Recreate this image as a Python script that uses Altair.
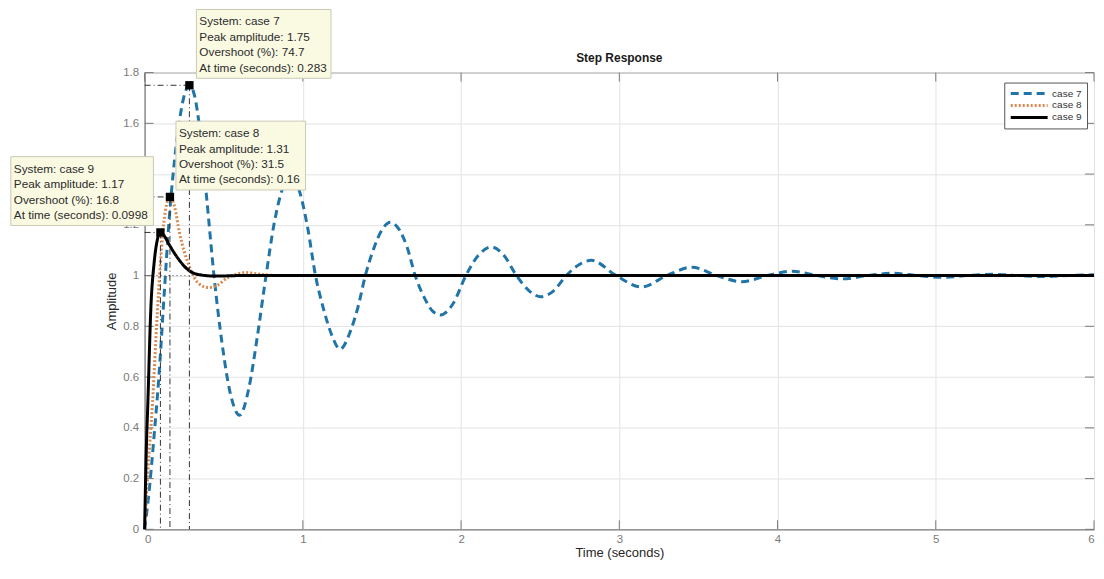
import altair as alt
import pandas as pd

cases = ["case 7", "case 8", "case 9"]
colors = ["#2174a8", "#d9884f", "#000000"]

c7_t = [0, 0.03, 0.06, 0.09, 0.125, 0.155, 0.19, 0.225, 0.255, 0.283, 0.315, 0.35, 0.39, 0.44, 0.49,
        0.54, 0.60, 0.66, 0.71, 0.765, 0.82, 0.87, 0.92, 0.98, 1.03, 1.08, 1.13, 1.18, 1.235, 1.30,
        1.35, 1.395, 1.45, 1.50, 1.553, 1.61, 1.66, 1.71, 1.77, 1.82, 1.87, 1.95, 2.03, 2.11, 2.19,
        2.27, 2.35, 2.43, 2.505, 2.585, 2.665, 2.745, 2.823, 2.98, 3.14, 3.30, 3.458, 3.615, 3.775, 3.935,
        4.093, 4.25, 4.41, 4.57, 4.728, 4.885, 5.045, 5.20, 5.363, 5.52, 5.68, 5.84, 6.0]
c7_y = [0, 0.16, 0.37, 0.6, 0.94, 1.22, 1.46, 1.63, 1.72, 1.75, 1.71, 1.57, 1.32, 0.99, 0.73,
        0.54, 0.45, 0.56, 0.75, 0.99, 1.21, 1.34, 1.40, 1.33, 1.19, 1.0, 0.87, 0.77, 0.71, 0.78,
        0.88, 1.0, 1.11, 1.18, 1.21, 1.18, 1.11, 1.0, 0.91, 0.86, 0.845, 0.89, 1.0, 1.08, 1.113,
        1.08, 1.0, 0.94, 0.917, 0.94, 1.0, 1.043, 1.06, 1.0, 0.955, 1.0, 1.033, 1.0, 0.976, 1.0,
        1.017, 1.0, 0.987, 1.0, 1.009, 1.0, 0.993, 1.0, 1.005, 1.0, 0.996, 1.0, 1.003]

c8_t = [0, 0.02, 0.05, 0.08, 0.10, 0.13, 0.16, 0.19, 0.22, 0.28, 0.34, 0.40, 0.46, 0.52, 0.58,
        0.64, 0.72, 0.85, 1.0, 6.0]
c8_y = [0, 0.22, 0.5, 0.85, 1.05, 1.25, 1.31, 1.27, 1.17, 1.04, 0.97, 0.953, 0.962, 0.99, 1.005,
        1.012, 1.006, 1.0, 1.0, 1.0]

c9_t = [0, 0.01, 0.02, 0.04, 0.06, 0.08, 0.0998, 0.12, 0.157, 0.22, 0.28, 0.35, 0.45, 0.6, 6.0]
c9_y = [0, 0.3, 0.49, 0.88, 1.05, 1.14, 1.17, 1.16, 1.12, 1.06, 1.02, 1.003, 0.998, 1.0, 1.0]

peak_t = [0.283, 0.16, 0.0998]
peak_y = [1.75, 1.31, 1.17]
overshoot = [74.7, 31.5, 16.8]
final_value = 1.0

x_ticks = [0, 1, 2, 3, 4, 5, 6]
y_ticks = [0, 0.2, 0.4, 0.6, 0.8, 1, 1.2, 1.4, 1.6, 1.8]

chart_title = "Step Response"
x_title = "Time (seconds)"
y_title = "Amplitude"

FONT = "Liberation Sans"
AXC = "#7a7a7a"
XMIN, XMAX = x_ticks[0], x_ticks[-1]
YMIN, YMAX = y_ticks[0], y_ticks[-1]

curves = pd.concat([
    pd.DataFrame({"system": cases[0], "t": c7_t, "y": c7_y}),
    pd.DataFrame({"system": cases[1], "t": c8_t, "y": c8_y}),
    pd.DataFrame({"system": cases[2], "t": c9_t, "y": c9_y}),
], ignore_index=True)

peaks = pd.DataFrame({
    "system": cases,
    "t": peak_t,
    "y": peak_y,
    "label": [
        f"System: {c}\nPeak amplitude: {p}\nOvershoot (%): {o}\nAt time (seconds): {t}"
        for c, p, o, t in zip(cases, peak_y, overshoot, peak_t)
    ],
})

xscale = alt.Scale(domain=[XMIN, XMAX], nice=False, zero=False)
yscale = alt.Scale(domain=[YMIN, YMAX], nice=False, zero=False)


def X(f):
    return alt.X(f"{f}:Q", scale=xscale, title=x_title,
                 axis=alt.Axis(values=x_ticks, format="~g", titlePadding=2, labelPadding=4))


def Y(f):
    return alt.Y(f"{f}:Q", scale=yscale, title=y_title,
                 axis=alt.Axis(values=y_ticks, format="~g", titlePadding=4, labelPadding=6))


leg = alt.Legend(orient="none", legendX=862, legendY=10, symbolType="stroke", symbolSize=1369,
                 symbolStrokeWidth=2.5, clipHeight=12, labelFontSize=10, labelColor="#333333",
                 strokeColor="#555555", fillColor="white", padding=5, rowPadding=0, labelOffset=3,
                 labelFont=FONT)

lines = alt.Chart(curves).mark_line(interpolate="monotone").encode(
    x=X("t"), y=Y("y"),
    color=alt.Color("system:N", title=None, scale=alt.Scale(domain=cases, range=colors), legend=leg),
    strokeDash=alt.StrokeDash("system:N", title=None,
                              scale=alt.Scale(domain=cases, range=[[8, 5], [2, 2], [1, 0]]), legend=leg),
    strokeWidth=alt.StrokeWidth("system:N", scale=alt.Scale(domain=cases, range=[3, 3, 2.5]), legend=None),
)

steady = alt.Chart(pd.DataFrame({"y": [final_value]})).transform_calculate(
    xa=f"{XMIN}", xb=f"{XMAX}"
).mark_rule(color="#444444", strokeDash=[1, 3], strokeWidth=1).encode(
    x=X("xa"), x2=alt.X2("xb"), y=Y("y"))

dashdot = [6, 3, 1, 3]
vert = alt.Chart(peaks).transform_calculate(ya=f"{YMIN}").mark_rule(
    color="#333333", strokeDash=dashdot, strokeWidth=1).encode(
    x=X("t"), y=Y("y"), y2=alt.Y2("ya"))
horiz = alt.Chart(peaks).transform_calculate(xa=f"{XMIN}").mark_rule(
    color="#333333", strokeDash=dashdot, strokeWidth=1).encode(
    x=X("xa"), x2=alt.X2("t"), y=Y("y"))

squares = alt.Chart(peaks).mark_square(size=70, color="black", opacity=1, filled=True).encode(
    x=X("t"), y=Y("y"))


def note(system, x0, x1):
    base = alt.Chart(peaks).transform_filter(alt.datum.system == system)
    box = base.mark_rect(fill="#fafae3", stroke="#c9c9b5", strokeWidth=1,
                         xOffset=x0, x2Offset=x1, yOffset=-76, y2Offset=-7).encode(
        x=X("t"), x2=alt.X2("t"), y=Y("y"), y2=alt.Y2("y"))
    txt = base.mark_text(align="left", baseline="middle", lineBreak="\n", lineHeight=15.5,
                         dx=x0 + 3, dy=-64, fontSize=11.8, color="#2b2b2b", font=FONT).encode(
        x=X("t"), y=Y("y"), text="label:N")
    return [box, txt]


xt = pd.DataFrame({"t": x_ticks})
yt = pd.DataFrame({"y": y_ticks})
tick_b = alt.Chart(xt).transform_calculate(ya=f"{YMIN}").mark_rule(color=AXC, y2Offset=-9).encode(
    x=X("t"), y=Y("ya"), y2=alt.Y2("ya"))
tick_t = alt.Chart(xt).transform_calculate(ya=f"{YMAX}").mark_rule(color=AXC, y2Offset=9).encode(
    x=X("t"), y=Y("ya"), y2=alt.Y2("ya"))
tick_l = alt.Chart(yt).transform_calculate(xa=f"{XMIN}").mark_rule(color=AXC, x2Offset=9).encode(
    y=Y("y"), x=X("xa"), x2=alt.X2("xa"))
tick_r = alt.Chart(yt).transform_calculate(xa=f"{XMAX}").mark_rule(color=AXC, x2Offset=-9).encode(
    y=Y("y"), x=X("xa"), x2=alt.X2("xa"))

title_mark = alt.Chart(pd.DataFrame({"title": [chart_title]})).transform_calculate(
    xc=f"({XMIN} + {XMAX}) / 2", yc=f"{YMAX}"
).mark_text(fontSize=12, fontWeight="bold", color="#1a1a1a", font=FONT, dy=-15, baseline="middle").encode(
    x=X("xc"), y=Y("yc"), text="title:N")

layers = [tick_b, tick_t, tick_l, tick_r, steady, lines, vert, horiz, squares, title_mark]
layers += note(cases[0], 7, 142)
layers += note(cases[1], 6, 136)
layers += note(cases[2], -150, -7)

chart = alt.layer(*layers).properties(
    width=952, height=458,
    autosize=alt.AutoSizeParams(type="none"),
    padding={"left": 137, "top": 64, "right": 2, "bottom": 34},
).configure(font=FONT).configure_axis(
    grid=True, gridColor="#e3e3e3", gridWidth=1, domainColor=AXC, ticks=False,
    labelColor=AXC, labelFontSize=11.5, titleColor="#262626", titleFontSize=13,
    titleFontWeight="normal", labelFont=FONT, titleFont=FONT,
).configure_view(stroke=AXC, strokeWidth=1)

chart.save("out.html", embed_options={"renderer": "svg", "actions": False})
